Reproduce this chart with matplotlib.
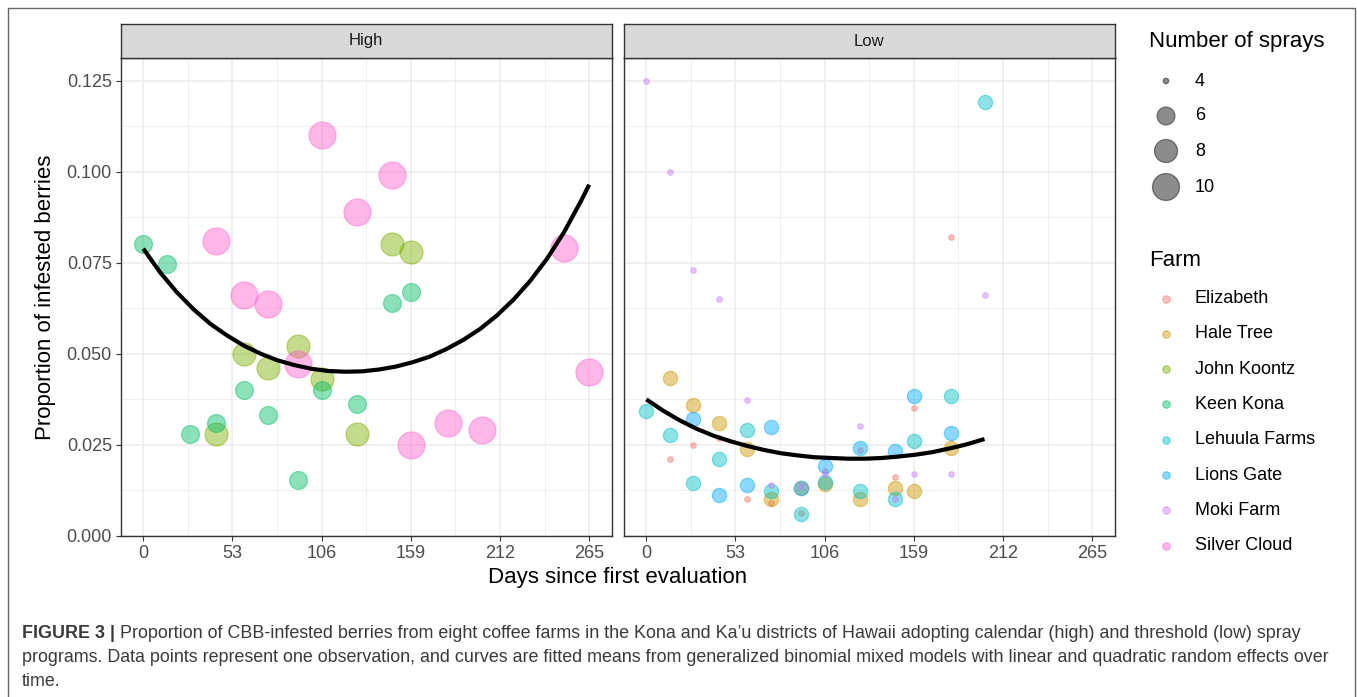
import numpy as np
import matplotlib
matplotlib.use('Agg')
import matplotlib.pyplot as plt
from matplotlib.patches import Rectangle

plt.rcParams['font.family'] = ['Liberation Sans', 'DejaVu Sans']

# ---- data ----
farms = ['Elizabeth', 'Hale Tree', 'John Koontz', 'Keen Kona',
         'Lehuula Farms', 'Lions Gate', 'Moki Farm', 'Silver Cloud']
farm_colors = ['#F8766D', '#CD9600', '#7CAE00', '#00BE67',
               '#00BFC4', '#00A9FF', '#C77CFF', '#FF61CC']
farm_panel = ['Low', 'Low', 'High', 'High', 'Low', 'Low', 'Low', 'High']
farm_sprays = [4, 5, 8, 6, 5, 5, 4, 10]

elizabeth_days = [14, 28, 43, 60, 74, 92, 106, 127, 148, 159, 181]
elizabeth_prop = [0.021, 0.025, 0.0267, 0.010, 0.0088, 0.0062, 0.0178, 0.0234, 0.016, 0.035, 0.082]

haletree_days = [14, 28, 43, 60, 74, 92, 106, 127, 148, 159, 181]
haletree_prop = [0.0432, 0.0358, 0.031, 0.0237, 0.0101, 0.0130, 0.0142, 0.0101, 0.0131, 0.0121, 0.0241]

koontz_days = [43, 60, 74, 92, 106, 127, 148, 159]
koontz_prop = [0.028, 0.050, 0.046, 0.052, 0.043, 0.028, 0.080, 0.078]

keenkona_days = [0, 14, 28, 43, 60, 74, 92, 106, 127, 148, 159]
keenkona_prop = [0.080, 0.0746, 0.028, 0.031, 0.040, 0.033, 0.0153, 0.040, 0.036, 0.064, 0.067]

lehuula_days = [0, 14, 28, 43, 60, 74, 92, 106, 127, 148, 159, 181, 201]
lehuula_prop = [0.0341, 0.0276, 0.0144, 0.0211, 0.029, 0.0121, 0.006, 0.0146, 0.0121, 0.0101, 0.026, 0.0382, 0.119]

lionsgate_days = [28, 43, 60, 74, 92, 106, 127, 148, 159, 181]
lionsgate_prop = [0.0321, 0.0111, 0.014, 0.0297, 0.013, 0.019, 0.0241, 0.0232, 0.0382, 0.0281]

moki_days = [0, 14, 28, 43, 60, 74, 92, 106, 127, 148, 159, 181, 201]
moki_prop = [0.125, 0.100, 0.0729, 0.0651, 0.0371, 0.014, 0.0135, 0.0169, 0.030, 0.0101, 0.017, 0.017, 0.066]

silver_days = [43, 60, 74, 92, 106, 127, 148, 159, 181, 201, 250, 265]
silver_prop = [0.081, 0.066, 0.0635, 0.047, 0.110, 0.089, 0.099, 0.025, 0.031, 0.029, 0.079, 0.045]

farm_days = [elizabeth_days, haletree_days, koontz_days, keenkona_days,
             lehuula_days, lionsgate_days, moki_days, silver_days]
farm_prop = [elizabeth_prop, haletree_prop, koontz_prop, keenkona_prop,
             lehuula_prop, lionsgate_prop, moki_prop, silver_prop]

# fitted mean curves, every 10 days
high_curve_days = [0, 10, 20, 30, 40, 50, 60, 70, 80, 90, 100, 110, 120, 130,
                   140, 150, 160, 170, 180, 190, 200, 210, 220, 230, 240, 250, 260, 265]
high_curve_prop = [0.0788, 0.0723, 0.0668, 0.0621, 0.0581, 0.0549, 0.0521, 0.0499,
                   0.0481, 0.0468, 0.0458, 0.0452, 0.0450, 0.0451, 0.0456, 0.0464,
                   0.0476, 0.0491, 0.0512, 0.0537, 0.0567, 0.0604, 0.0648, 0.0700,
                   0.0761, 0.0833, 0.0918, 0.0964]
low_curve_days = [0, 10, 20, 30, 40, 50, 60, 70, 80, 90, 100, 110, 120, 130,
                  140, 150, 160, 170, 180, 190, 201]
low_curve_prop = [0.0374, 0.0343, 0.0316, 0.0293, 0.0274, 0.0259, 0.0246, 0.0235,
                  0.0226, 0.0220, 0.0215, 0.0213, 0.0211, 0.0211, 0.0213, 0.0217,
                  0.0222, 0.0229, 0.0239, 0.0250, 0.0265]

panels = ['High', 'Low']
x_ticks = [0, 53, 106, 159, 212, 265]
y_ticks = [0.0, 0.025, 0.05, 0.075, 0.1, 0.125]
legend_sprays = [4, 6, 8, 10]

caption_bold = 'FIGURE 3 |'
caption_lines = [
    ' Proportion of CBB-infested berries from eight coffee farms in the Kona and Ka\u2019u districts of Hawaii adopting calendar (high) and threshold (low) spray',
    'programs. Data points represent one observation, and curves are fitted means from generalized binomial mixed models with linear and quadratic random effects over',
    'time.',
]


def spray_size(v):
    # ggplot-like area scale -> marker area in pt^2 (1 px = 0.72 pt)
    d = 5.5 + 21.5 * np.sqrt((np.asarray(v, float) - 4) / 6.0)
    return (d * 0.72) ** 2


W, H = 1357, 697
fig = plt.figure(figsize=(W / 100, H / 100), dpi=100)

def px_axes(x0, y0, x1, y1):
    return fig.add_axes([x0 / W, 1 - y1 / H, (x1 - x0) / W, (y1 - y0) / H])

panel_x = {'High': (121, 611.5), 'Low': (624, 1114.5)}
curves = {'High': (high_curve_days, high_curve_prop), 'Low': (low_curve_days, low_curve_prop)}

for p in panels:
    x0, x1 = panel_x[p]
    ax = px_axes(x0, 58, x1, 535.5)
    ax.set_xlim(-13.25, 278.25)
    ax.set_ylim(0, 0.1312)
    ax.set_xticks(x_ticks)
    ax.set_xticks([26.5, 79.5, 132.5, 185.5, 238.5], minor=True)
    ax.set_yticks(y_ticks)
    ax.set_yticks([0.0125, 0.0375, 0.0625, 0.0875, 0.1125], minor=True)
    ax.grid(True, which='major', color='#EBEBEB', lw=1.1)
    ax.grid(True, which='minor', color='#EBEBEB', lw=0.55)
    ax.set_axisbelow(True)
    ax.tick_params(which='major', length=3.5, width=0.8, color='#333333',
                   labelsize=13, labelcolor='#4D4D4D', pad=3)
    ax.tick_params(which='minor', length=0)
    ax.set_xticklabels([str(t) for t in x_ticks])
    if p == 'High':
        ax.set_yticklabels(['0.000', '0.025', '0.050', '0.075', '0.100', '0.125'])
    else:
        ax.tick_params(axis='y', which='major', length=0, labelleft=False)
    for s in ax.spines.values():
        s.set_color('#333333')
        s.set_linewidth(1.0)

    for i, f in enumerate(farms):
        if farm_panel[i] != p:
            continue
        ax.scatter(farm_days[i], farm_prop[i], s=spray_size(farm_sprays[i]),
                   color=farm_colors[i], alpha=0.45, edgecolors=farm_colors[i],
                   linewidths=0.9, zorder=3)
    cd, cp = curves[p]
    ax.plot(cd, cp, color='black', lw=3.0, zorder=4, solid_capstyle='butt',
            solid_joinstyle='round')

    st = px_axes(x0, 24, x1, 58)
    st.set_facecolor('#D9D9D9')
    st.set_xticks([])
    st.set_yticks([])
    for s in st.spines.values():
        s.set_color('#333333')
        s.set_linewidth(1.0)
    st.text(0.5, 0.5, p, ha='center', va='center', fontsize=12, color='#1A1A1A',
            transform=st.transAxes)

# overlay in pixel coordinates for titles, legends, caption and frame
ov = fig.add_axes([0, 0, 1, 1], zorder=10)
ov.set_xlim(0, W)
ov.set_ylim(H, 0)
ov.axis('off')
ov.patch.set_alpha(0)

ov.add_patch(Rectangle((8, 8), 1347, 700, fill=False, edgecolor='#666666', lw=1.0))

ov.text(617.5, 577, 'Days since first evaluation', ha='center', va='center', fontsize=16)
ov.text(46, 297, 'Proportion of infested berries', ha='center', va='center',
        rotation=90, fontsize=16)

# size legend
ov.text(1149, 42, 'Number of sprays', ha='left', va='center', fontsize=16)
size_y = [81, 116, 151, 187]
ov.scatter([1166] * len(legend_sprays), size_y, s=spray_size(legend_sprays),
           color='black', alpha=0.45, edgecolors='black', linewidths=0.9)
for v, y in zip(legend_sprays, size_y):
    ov.text(1195, y, str(v), ha='left', va='center', fontsize=13)

# farm legend
ov.text(1149, 260, 'Farm', ha='left', va='center', fontsize=16)
for i, f in enumerate(farms):
    y = 298.5 + i * 35.3
    ov.scatter([1166], [y], s=(7.5 * 0.72) ** 2, color=farm_colors[i], alpha=0.45,
               edgecolors=farm_colors[i], linewidths=0.9)
    ov.text(1195, y, f, ha='left', va='center', fontsize=13)

# caption
cap_kw = dict(ha='left', va='center', fontsize=12.85, color='#3A3A3A')
tb = ov.text(22, 633, caption_bold, fontweight='bold', **cap_kw)
fig.canvas.draw()
bb = tb.get_window_extent(renderer=fig.canvas.get_renderer())
ov.text(22 + bb.width, 633, caption_lines[0], **cap_kw)
ov.text(22, 657, caption_lines[1], **cap_kw)
ov.text(22, 681, caption_lines[2], **cap_kw)

fig.savefig('out.png', dpi=100)
